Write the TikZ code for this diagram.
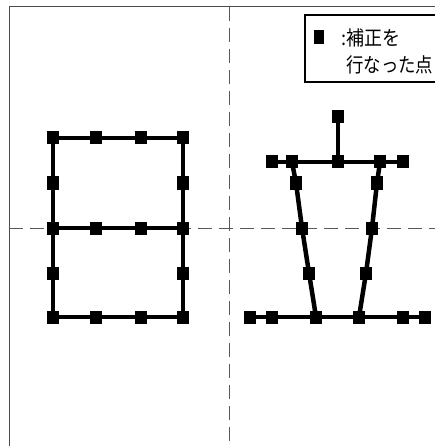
\documentclass[tikz,border=0pt]{standalone}
\usepackage{fontspec}
\newfontfamily\jp{Noto Sans CJK JP}
\begin{document}
\begin{tikzpicture}[x=1pt,y=-1pt,
  pt/.style={draw=none,fill=black,minimum width=12pt,minimum height=13pt,inner sep=0pt,outer sep=0pt},
  stroke/.style={line width=4.5pt,black},
  guide/.style={line width=0.9pt,gray!70!black,dash pattern=on 14pt off 7pt},
  frame/.style={line width=1pt,gray!60!black},
  jtext/.style={font=\jp\fontsize{20}{20}\selectfont,inner sep=0pt,anchor=west,text=black}]
\useasboundingbox (0,0) rectangle (435,446);
\fill[white] (0,0) rectangle (435,446);
% frame and guides
\draw[frame] (9,446) -- (9,7) -- (435,7);
\draw[guide] (229,7) -- (229,446);
\draw[guide] (9,228) -- (435,228);
% legend
\draw[line width=1.2pt] (440,15) -- (305,15) -- (305,82) -- (440,82);
\node[pt,minimum width=10pt,minimum height=14pt] (lg) at (319,37) {};
\node[jtext] (lt1) at (341,38) {\scalebox{0.9}[1]{:補正を}};
\node[jtext] (lt2) at (346,65) {\scalebox{0.87}[1]{行なった点}};
% character 1 nodes
\foreach \n/\x in {1/53,2/96,3/141,4/183}{
  \node[pt] (t\n) at (\x,138) {};
  \node[pt] (m\n) at (\x,228) {};
  \node[pt] (b\n) at (\x,317) {};
}
\node[pt] (sl1) at (53,183) {};
\node[pt] (sl2) at (53,273) {};
\node[pt] (sr1) at (183,183) {};
\node[pt] (sr2) at (183,273) {};
% character 2 nodes
\node[pt] (k0) at (338,117) {};
\node[pt] (a1) at (272,162) {};
\node[pt] (a2) at (292,162) {};
\node[pt] (a3) at (338,162) {};
\node[pt] (a4) at (380,162) {};
\node[pt] (a5) at (403,162) {};
\node[pt] (l1) at (296,183) {};
\node[pt] (l2) at (302,228) {};
\node[pt] (l3) at (309,273) {};
\node[pt] (r1) at (377,183) {};
\node[pt] (r2) at (372,228) {};
\node[pt] (r3) at (366,273) {};
\node[pt] (c1) at (250,317) {};
\node[pt] (c2) at (272,317) {};
\node[pt] (c3) at (316,317) {};
\node[pt] (c4) at (359,317) {};
\node[pt] (c5) at (403,317) {};
\node[pt] (c6) at (425,317) {};
% strokes
\draw[stroke] (t1.center) -- (t4.center);
\draw[stroke] (m1.center) -- (m4.center);
\draw[stroke] (b1.center) -- (b4.center);
\draw[stroke] (t1.center) -- (sl1.center) -- (m1.center) -- (sl2.center) -- (b1.center);
\draw[stroke] (t4.center) -- (sr1.center) -- (m4.center) -- (sr2.center) -- (b4.center);
\draw[stroke] (k0.center) -- (a3.center);
\draw[stroke] (a1.center) -- (a5.center);
\draw[stroke] (a2.center) -- (l1.center) -- (l2.center) -- (l3.center) -- (c3.center);
\draw[stroke] (a4.center) -- (r1.center) -- (r2.center) -- (r3.center) -- (c4.center);
\draw[stroke] (c1.center) -- (c6.center);
% redraw squares on top
\foreach \n in {t1,t2,t3,t4,m1,m2,m3,m4,b1,b2,b3,b4,sl1,sl2,sr1,sr2,k0,a1,a2,a3,a4,a5,l1,l2,l3,r1,r2,r3,c1,c2,c3,c4,c5,c6}{
  \fill (\n.south west) rectangle (\n.north east);
}
\end{tikzpicture}
\end{document}
